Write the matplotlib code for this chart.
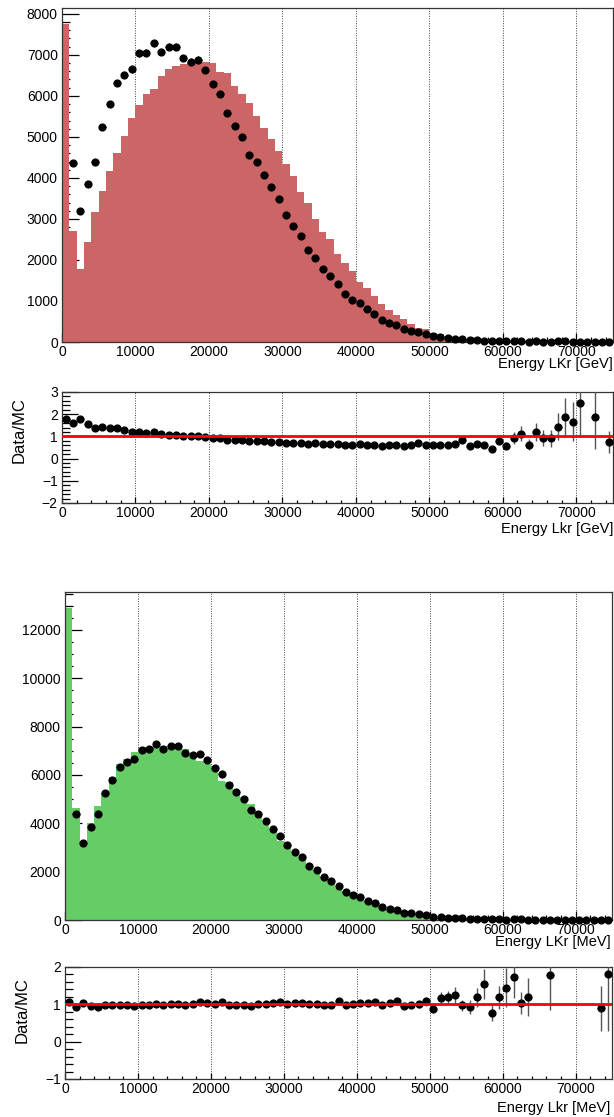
import numpy as np
import matplotlib
matplotlib.use("Agg")
import matplotlib.pyplot as plt
from matplotlib.ticker import MultipleLocator

plt.rcParams['font.family'] = ['Liberation Sans', 'DejaVu Sans']

# 75 bins of 1000 between 0 and 75000
bin_edges = np.arange(0, 76000, 1000)

# measured events per bin (shared by both comparisons)
data_counts = [
    13800, 4370, 3200, 3840, 4390, 5235, 5805, 6315, 6520, 6650,
    7040, 7055, 7285, 7075, 7200, 7200, 6925, 6835, 6885, 6635,
    6295, 6040, 5575, 5275, 4990, 4560, 4390, 4080, 3780, 3485,
    3100, 2830, 2590, 2245, 2055, 1770, 1610, 1415, 1170, 1025,
    945, 795, 685, 535, 470, 405, 310, 270, 245, 195,
    135, 120, 95, 78, 80, 45, 45, 36, 21, 32,
    19, 26, 26, 12, 19, 12, 10, 13, 13, 10,
    10, 8, 5, 4, 4,
]

# simulation, first sample (GeV labelling)
mc_gev = [
    7755, 2705, 1785, 2450, 3170, 3690, 4180, 4600, 5025, 5455,
    5790, 6055, 6165, 6490, 6660, 6740, 6780, 6795, 6830, 6815,
    6800, 6575, 6570, 6250, 6050, 5835, 5510, 5210, 4950, 4660,
    4340, 4050, 3660, 3380, 3000, 2690, 2505, 2145, 1920, 1730,
    1470, 1325, 1120, 925, 780, 660, 555, 440, 350, 310,
    215, 190, 150, 118, 95, 80, 68, 57, 48, 40,
    33, 28, 23, 19, 16, 13, 11, 9, 7, 6,
    4, 0, 2.7, 0, 5.4,
]

# simulation, second sample (MeV labelling)
mc_mev = [
    12920, 4650, 3080, 4000, 4700, 5260, 5920, 6440, 6650, 6950,
    7120, 7150, 7210, 7215, 7130, 7130, 7065, 6770, 6560, 6440,
    6295, 5755, 5690, 5385, 5095, 4800, 4345, 4000, 3670, 3255,
    3100, 2745, 2515, 2245, 2015, 1790, 1625, 1310, 1180, 1015,
    915, 775, 650, 545, 455, 375, 325, 275, 245, 181,
    152, 102, 80, 62, 82, 49, 38, 23.4, 27, 27,
    13.1, 15.1, 25.2, 10.1, 0, 0, 5.6, 0, 0, 0,
    0, 0, 0, 4.5, 2.2,
]

W, H = 614, 1117
fig = plt.figure(figsize=(W / 100, H / 100), dpi=100)


def axes_px(left, top, right, bottom):
    return fig.add_axes([left / W, 1 - bottom / H, (right - left) / W, (bottom - top) / H])


def text_px(x, y, s, **kw):
    fig.text(x / W, 1 - y / H, s, **kw)


edges = np.asarray(bin_edges, dtype=float)
centers = edges[:-1] + 500.0
data = np.asarray(data_counts, dtype=float)


def style_axes(ax, ymaj, ymin, ylen, xlen):
    ax.set_xlim(0, 75000)
    ax.xaxis.set_major_locator(MultipleLocator(10000))
    ax.xaxis.set_minor_locator(MultipleLocator(2000))
    ax.yaxis.set_major_locator(MultipleLocator(ymaj))
    ax.yaxis.set_minor_locator(MultipleLocator(ymin))
    ax.tick_params(which='both', direction='in', top=False, right=False,
                   labelsize=10, width=0.9, color='black')
    ax.tick_params(axis='y', which='major', length=ylen[0], pad=3)
    ax.tick_params(axis='y', which='minor', length=ylen[1])
    ax.tick_params(axis='x', which='major', length=xlen[0], pad=2)
    ax.tick_params(axis='x', which='minor', length=xlen[1])
    for s in ax.spines.values():
        s.set_linewidth(0.9)
        s.set_color('#333333')
    ax.grid(True, axis='x', which='major', color='#444444',
            linestyle=(0, (1, 1.5)), linewidth=0.7)
    ax.set_axisbelow(True)


def draw_hist(ax, mc, color, ymaj, ymin):
    mc = np.asarray(mc, dtype=float)
    ymax = 1.05 * mc.max()
    ax.stairs(mc, edges, fill=True, color=color, linewidth=0, zorder=1)
    ax.set_ylim(0, ymax)
    style_axes(ax, ymaj, ymin, (12, 5.8), (6.5, 3.6))
    vis = data <= ymax
    ax.errorbar(centers[vis], data[vis], xerr=500, yerr=np.sqrt(data[vis]),
                fmt='o', ms=4.9, mfc='black', mec='black', ecolor='#1a1a8c',
                elinewidth=0.8, capsize=0, zorder=3, clip_on=False)


def draw_ratio(ax, mc, ylo, yhi):
    mc = np.asarray(mc, dtype=float)
    ok = (mc > 0) & (data > 0)
    r = data[ok] / mc[ok]
    err = r * np.sqrt(1.0 / data[ok] + 1.0 / mc[ok])
    ax.set_ylim(ylo, yhi)
    style_axes(ax, 1, 0.2, (11.5, 5.8), (4.5, 2.5))
    ax.errorbar(centers[ok], r, xerr=500, yerr=err, fmt='o', ms=4.9,
                mfc='black', mec='black', ecolor='#555555',
                elinewidth=1.0, capsize=0, zorder=3)
    ax.axhline(1.0, color='#ff0000', linewidth=2.0, zorder=4)


# first comparison
ax1 = axes_px(62, 8, 613, 342)
draw_hist(ax1, mc_gev, '#cc6666', 1000, 200)
text_px(613, 364, 'Energy LKr [GeV]', ha='right', va='center', fontsize=10.5)

ax2 = axes_px(62, 392, 613, 503)
draw_ratio(ax2, mc_gev, -2, 3)
text_px(613, 529, 'Energy Lkr [GeV]', ha='right', va='center', fontsize=10.5)
text_px(19, 397, 'Data/MC', rotation=90, ha='center', va='top', fontsize=12)

# second comparison
ax3 = axes_px(65, 592, 612, 920)
draw_hist(ax3, mc_mev, '#66cc66', 2000, 500)
text_px(611, 942, 'Energy LKr [MeV]', ha='right', va='center', fontsize=10.5)

ax4 = axes_px(65, 967, 612, 1079)
draw_ratio(ax4, mc_mev, -1, 2)
text_px(610, 1108, 'Energy Lkr [MeV]', ha='right', va='center', fontsize=10.5)
text_px(22, 977, 'Data/MC', rotation=90, ha='center', va='top', fontsize=12)

fig.savefig('out.png', dpi=100)
